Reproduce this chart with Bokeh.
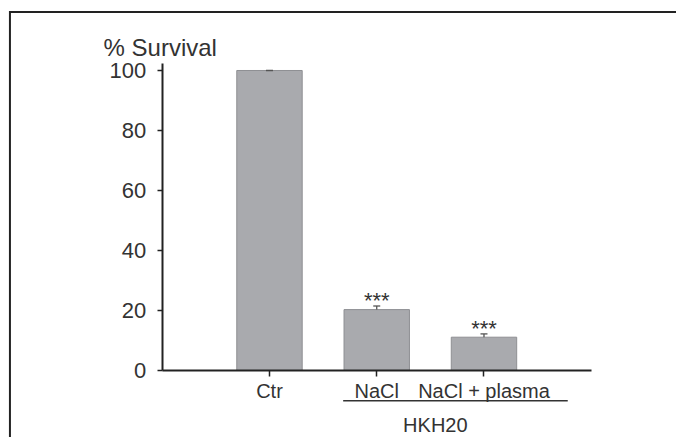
from bokeh.plotting import figure
from bokeh.models import (ColumnDataSource, Range1d, FixedTicker, LinearAxis)
from bokeh.core.properties import value
from bokeh.embed import file_html
from bokeh.resources import INLINE

# ---- data ----
categories = ["Ctr", "NaCl", "NaCl + plasma"]
survival = [100.0, 20.3, 11.1]
sem = [0.0, 1.2, 1.1]
significance = ["", "***", "***"]
y_ticks = [0, 20, 40, 60, 80, 100]
y_title = "% Survival"
group_label = "HKH20"

FONT = "Liberation Sans"
TEXT = "#333333"
AXIS = "#222222"

positions = list(range(1, len(categories) + 1))   # category slots on the x scale

src = ColumnDataSource(dict(
    x=positions,
    surv=survival,
    upper=[s + e for s, e in zip(survival, sem)],
    stars=significance,
))

X0, X1 = -1.508, 4.795
Y0, Y1 = -22.333, 123.333

p = figure(
    x_range=Range1d(X0, X1),
    y_range=Range1d(Y0, Y1),
    width=676, height=437,
    min_border_left=0, min_border_top=0,
    min_border_right=0, min_border_bottom=0,
    x_axis_location=None, y_axis_location=None,
    output_backend="svg", toolbar_location=None,
    outline_line_color=None,
)
p.xgrid.visible = False
p.ygrid.visible = False

# outer panel frame (left and top edges meeting at the corner)
p.line(x=[-1.42, -1.42, X1 + 1], y=[Y0 - 5, 119.5, 119.5],
       line_color=AXIS, line_width=2, line_join="miter")

# bars
p.vbar(x="x", top="surv", width=0.61, source=src,
       fill_color="#a9aaae", line_color="#8e8f93", line_width=1)

# error bars (upper half visible)
p.segment(x0="x", y0="surv", x1="x", y1="upper", source=src,
          line_color="#555555", line_width=1.3)
p.dash(x="x", y="upper", size=7, source=src, line_color="#555555", line_width=1.3)

# significance stars
p.text(x="x", y="surv", text="stars", source=src,
       text_align="center", text_baseline="alphabetic",
       text_font=value(FONT), text_font_size="22px", text_color=TEXT,
       y_offset=-9)

# axes (fixed inside the frame)
ya = LinearAxis(fixed_location=0, bounds=(0, 102.3))
ya.ticker = FixedTicker(ticks=y_ticks)
ya.minor_tick_line_color = None
ya.major_tick_in = 0
ya.major_tick_out = 5
ya.axis_line_width = 2
ya.axis_line_color = AXIS
ya.major_tick_line_width = 1.5
ya.major_tick_line_color = AXIS
ya.major_label_text_font = FONT
ya.major_label_text_font_size = "22px"
ya.major_label_text_color = TEXT
ya.major_label_standoff = 11
p.add_layout(ya, "left")

xa = LinearAxis(fixed_location=0, bounds=(0, 4))
xa.ticker = FixedTicker(ticks=positions, minor_ticks=[])
xa.major_label_overrides = {pos: cat for pos, cat in zip(positions, categories)}
xa.minor_tick_line_color = None
xa.major_tick_in = 0
xa.major_tick_out = 6
xa.axis_line_width = 2
xa.axis_line_color = AXIS
xa.major_tick_line_width = 1.5
xa.major_tick_line_color = AXIS
xa.major_label_text_font = FONT
xa.major_label_text_font_size = "20px"
xa.major_label_text_color = TEXT
xa.major_label_standoff = 3
p.add_layout(xa, "below")

# y title above the axis
p.text(x=[0], y=[107.8], text=[y_title], text_align="center",
       text_baseline="alphabetic", text_font=value(FONT),
       text_font_size="24px", text_color=TEXT, x_offset=-2)

# group bracket line and label under NaCl / NaCl + plasma
p.segment(x0=[1.687], y0=[-10.1], x1=[3.781], y1=[-10.1],
          line_color=TEXT, line_width=1.5)
p.text(x=[(positions[1] + positions[2]) / 2], y=[-18.33], text=[group_label],
       text_align="center", text_baseline="alphabetic", text_font=value(FONT),
       text_font_size="20px", text_color=TEXT, x_offset=5)

open("out.html", "w").write(file_html(p, INLINE))
